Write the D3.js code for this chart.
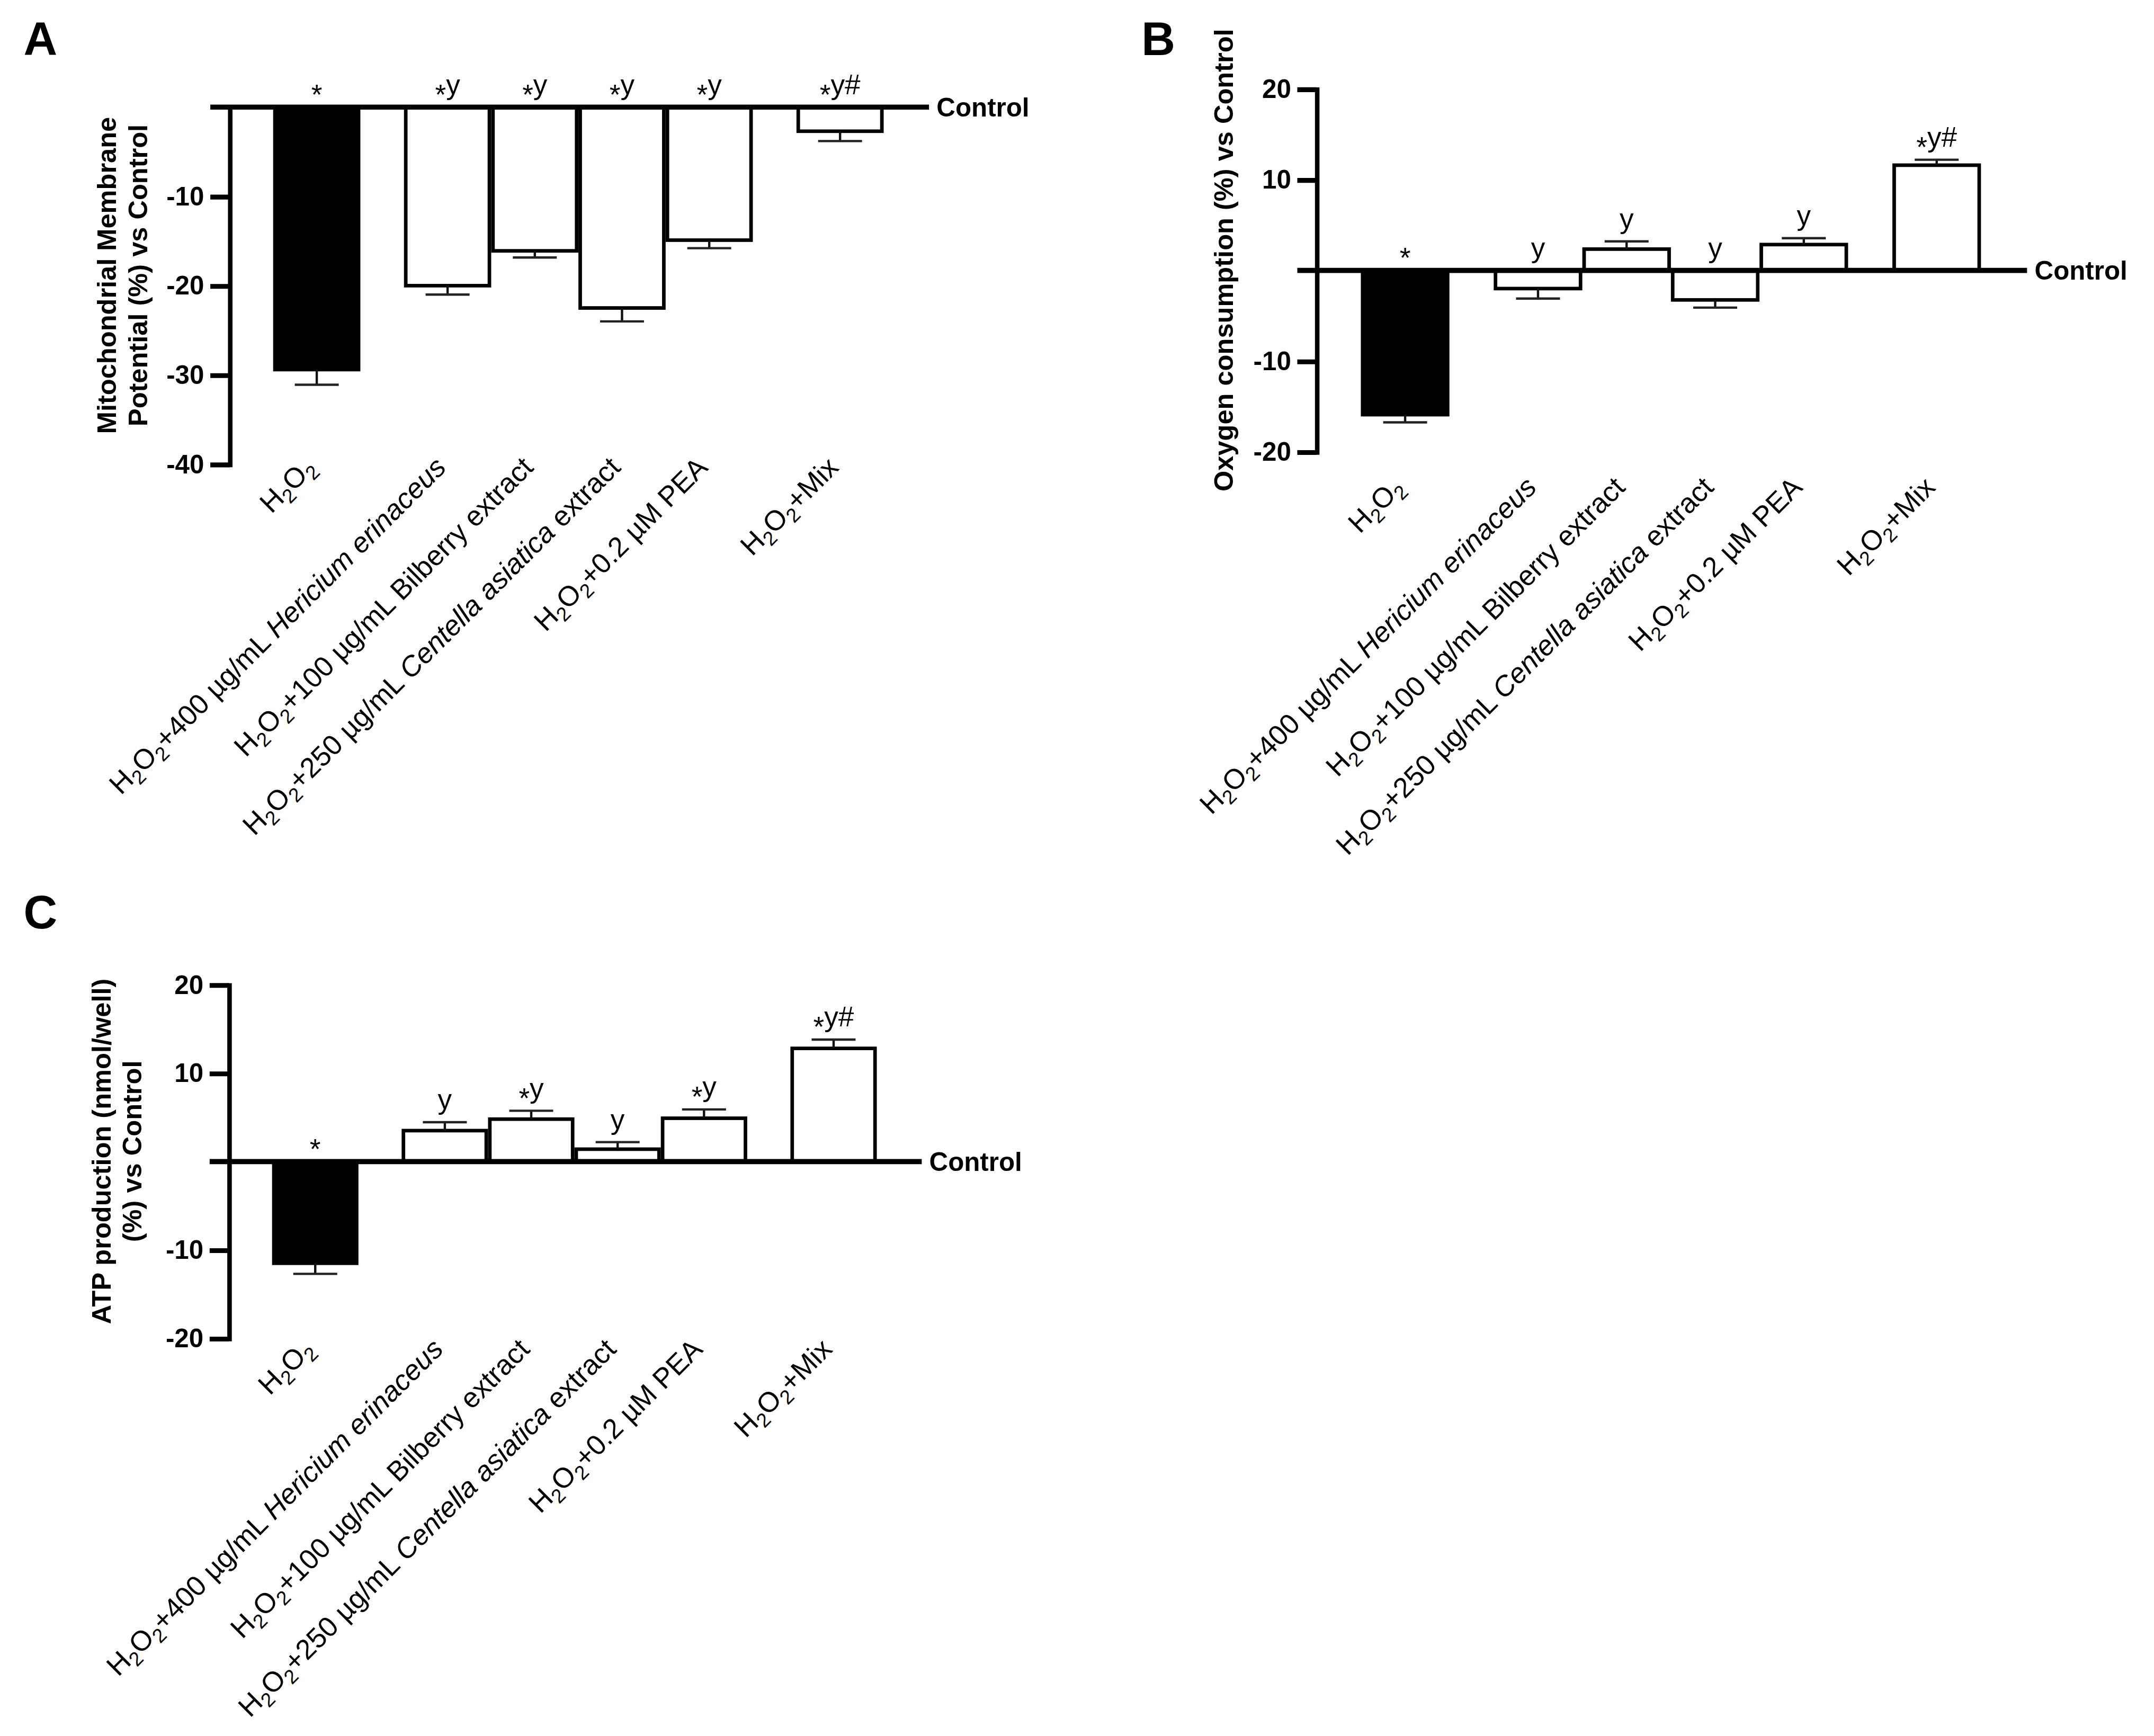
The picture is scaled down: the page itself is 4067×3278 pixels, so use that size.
<!DOCTYPE html>
<html>
<head>
<meta charset="utf-8">
<script src="https://cdn.jsdelivr.net/npm/d3@7"></script>
<style>
  body { margin: 0; background: #fff; }
  svg { display: block; }
</style>
</head>
<body>
<svg id="chart"></svg>
<script>
// whole figure is laid out on a 1568 x 1264 grid and stretched by the viewBox
const W = 4067, H = 3278;
const VW = 1568, VH = 1264;
const FONT = "'Liberation Sans', Arial, Helvetica, sans-serif";

const categories = [
  "H2O2",
  "H2O2+400 µg/mL Hericium erinaceus",
  "H2O2+100 µg/mL Bilberry extract",
  "H2O2+250 µg/mL Centella asiatica extract",
  "H2O2+0.2 µM PEA",
  "H2O2+Mix"
];
const italicTerms = ["Hericium erinaceus", "Centella asiatica"];

// A - mitochondrial membrane potential
const mmpValues = [-29.4, -20.0, -16.1, -22.5, -14.9, -2.7];
const mmpErrors = [1.7, 1.0, 0.75, 1.5, 0.9, 1.1];
const mmpMarks = ["*", "*y", "*y", "*y", "*y", "*y#"];
const mmpTicks = [-10, -20, -30, -40];

// B - oxygen consumption
const oxyValues = [-15.9, -2.0, 2.35, -3.25, 2.85, 11.6];
const oxyErrors = [0.85, 1.1, 0.85, 0.85, 0.7, 0.6];
const oxyMarks = ["*", "y", "y", "y", "y", "*y#"];
const oxyTicks = [20, 10, -10, -20];

// C - ATP production
const atpValues = [-11.5, 3.5, 4.8, 1.4, 4.9, 12.8];
const atpErrors = [1.2, 0.95, 0.95, 0.8, 1.0, 1.0];
const atpMarks = ["*", "y", "*y", "y", "*y", "*y#"];
const atpTicks = [20, 10, -10, -20];

// bar slots along the x axis (gaps before first treated bar and before Mix)
const slots = [0, 1.5, 2.5, 3.5, 4.5, 6];

const BAR_STROKE = 2.6;
const ERR_STROKE = 1.7;
const CAP_HALF = 16;
const TICK_FS = 19, TITLE_FS = 19.5, MARK_FS = 20.5, CAT_FS = 20.5;

const panels = [
  { letter: "A", letterPos: [17, 40],
    values: mmpValues, errors: mmpErrors, marks: mmpMarks, ticks: mmpTicks,
    domain: [-40, 0], yRange: [338, 78], axisX: 167, step: 63.5,
    title: ["Mitochondrial Membrane", "Potential (%) vs Control"], titleX: [84.5, 107],
    labelY: 341.5 },
  { letter: "B", letterPos: [831, 40],
    values: oxyValues, errors: oxyErrors, marks: oxyMarks, ticks: oxyTicks,
    domain: [-20, 20], yRange: [329, 64.8], axisX: 958.4, step: 64.5,
    title: ["Oxygen consumption (%) vs Control"], titleX: [897.5],
    labelY: 356 },
  { letter: "C", letterPos: [17, 676],
    values: atpValues, errors: atpErrors, marks: atpMarks, ticks: atpTicks,
    domain: [-20, 20], yRange: [974.5, 717], axisX: 166.5, step: 62.9,
    title: ["ATP production (nmol/well)", "(%) vs Control"], titleX: [80.5, 103],
    labelY: 983.5 }
];

const svg = d3.select("#chart")
  .attr("width", W)
  .attr("height", H)
  .attr("viewBox", `0 0 ${VW} ${VH}`)
  .style("background", "#fff");

// split a category name into pieces: subscripts for H2O2, italics for species
function segments(str) {
  const out = [];
  let rest = str;
  if (rest.startsWith("H2O2")) {
    out.push({ t: "H" }, { t: "2", sub: true }, { t: "O" }, { t: "2", sub: true });
    rest = rest.slice(4);
  }
  const re = new RegExp("(" + italicTerms.join("|") + ")");
  rest.split(re).forEach((part, i) => {
    if (part) out.push({ t: part, it: i % 2 === 1 });
  });
  return out;
}

function writeLabel(text, str) {
  let shift = 0;
  segments(str).forEach(s => {
    const target = s.sub ? CAT_FS * 0.22 : 0;
    text.append("tspan")
      .attr("dy", target - shift)
      .attr("font-size", s.sub ? CAT_FS * 0.7 : CAT_FS)
      .attr("font-style", s.it ? "italic" : "normal")
      .text(s.t);
    shift = target;
  });
}

function drawPanel(p) {
  const g = svg.append("g");
  const x = d3.scaleLinear().domain([-1, 0]).range([p.axisX, p.axisX + p.step]);
  const y = d3.scaleLinear().domain(p.domain).range(p.yRange);
  const barW = p.step - BAR_STROKE;

  const rows = categories.map((c, i) => ({
    c: c, v: p.values[i], e: p.errors[i], m: p.marks[i], slot: slots[i], i: i
  }));
  const tip = d => d.v < 0 ? d.v - d.e : d.v + d.e;

  // bars
  g.selectAll("rect.bar")
    .data(rows)
    .join("rect")
    .attr("class", "bar")
    .attr("x", d => x(d.slot) - barW / 2)
    .attr("y", d => Math.min(y(0), y(d.v)))
    .attr("width", barW)
    .attr("height", d => Math.abs(y(d.v) - y(0)))
    .attr("fill", d => d.i === 0 ? "#000" : "#fff")
    .attr("stroke", "#000")
    .attr("stroke-width", BAR_STROKE);

  // error bars, one-sided away from zero
  g.selectAll("line.err")
    .data(rows)
    .join("line")
    .attr("class", "err")
    .attr("x1", d => x(d.slot))
    .attr("x2", d => x(d.slot))
    .attr("y1", d => y(d.v))
    .attr("y2", d => y(tip(d)))
    .attr("stroke", "#111")
    .attr("stroke-width", ERR_STROKE);

  g.selectAll("line.cap")
    .data(rows)
    .join("line")
    .attr("class", "cap")
    .attr("x1", d => x(d.slot) - CAP_HALF)
    .attr("x2", d => x(d.slot) + CAP_HALF)
    .attr("y1", d => y(tip(d)))
    .attr("y2", d => y(tip(d)))
    .attr("stroke", "#222")
    .attr("stroke-width", ERR_STROKE);

  // significance marks
  const marks = g.selectAll("text.mark")
    .data(rows)
    .join("text")
    .attr("class", "mark")
    .attr("x", d => x(d.slot))
    .attr("y", d => (d.v < 0 ? y(0) : y(tip(d))) - 9.5)
    .attr("text-anchor", "middle")
    .attr("font-family", FONT)
    .attr("font-size", MARK_FS);
  marks.each(function(d) {
    const t = d3.select(this);
    const star = d.m.startsWith("*");
    if (star) t.append("tspan").attr("dy", "0.36em").text("*");
    const rest = star ? d.m.slice(1) : d.m;
    if (rest) t.append("tspan").attr("dy", star ? "-0.36em" : 0).text(rest);
  });

  // the zero line marks the control level
  g.append("line")
    .attr("x1", p.axisX - 14)
    .attr("x2", x(7.02))
    .attr("y1", y(0))
    .attr("y2", y(0))
    .attr("stroke", "#000")
    .attr("stroke-width", 3.7);

  g.append("text")
    .attr("x", x(7.02) + 5.5)
    .attr("y", y(0))
    .attr("dy", "0.36em")
    .attr("font-family", FONT)
    .attr("font-weight", "bold")
    .attr("font-size", TICK_FS)
    .text("Control");

  // y axis
  const axis = d3.axisLeft(y)
    .tickValues(p.ticks)
    .tickSize(14)
    .tickSizeOuter(0)
    .tickPadding(4.5)
    .tickFormat(d => String(d));

  const ag = g.append("g")
    .attr("transform", `translate(${p.axisX},0)`)
    .call(axis);
  ag.select(".domain")
    .attr("stroke", "#000")
    .attr("stroke-width", 3.3)
    .attr("stroke-linecap", "square");
  ag.selectAll(".tick line")
    .attr("stroke", "#000")
    .attr("stroke-width", 3.5);
  ag.selectAll(".tick text")
    .attr("font-family", FONT)
    .attr("font-weight", "bold")
    .attr("font-size", TICK_FS)
    .attr("fill", "#000");

  // axis title
  const cy = (p.yRange[0] + p.yRange[1]) / 2 - 7.5;
  p.title.forEach((line, k) => {
    g.append("text")
      .attr("transform", `translate(${p.titleX[k]},${cy}) rotate(-90)`)
      .attr("text-anchor", "middle")
      .attr("font-family", FONT)
      .attr("font-weight", "bold")
      .attr("font-size", TITLE_FS)
      .text(line);
  });

  // category labels, rotated 45 degrees
  g.selectAll("text.cat")
    .data(rows)
    .join("text")
    .attr("class", "cat")
    .attr("transform", d => `translate(${x(d.slot)},${p.labelY}) rotate(-45)`)
    .attr("text-anchor", "end")
    .attr("font-family", FONT)
    .attr("font-size", CAT_FS)
    .style("white-space", "pre")
    .each(function(d) { writeLabel(d3.select(this), d.c); });

  // panel letter
  svg.append("text")
    .attr("x", p.letterPos[0])
    .attr("y", p.letterPos[1])
    .attr("font-family", FONT)
    .attr("font-weight", "bold")
    .attr("font-size", 34)
    .text(p.letter);
}

panels.forEach(drawPanel);
</script>
</body>
</html>
